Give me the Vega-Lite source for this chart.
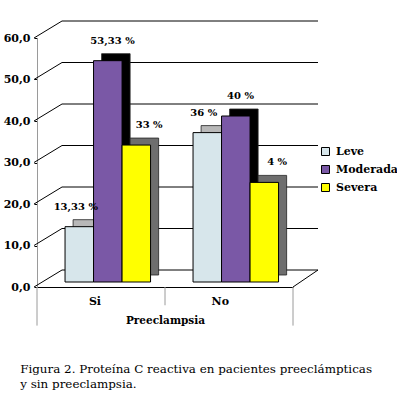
{
  "$schema": "https://vega.github.io/schema/vega-lite/v6.json",
  "width": 256,
  "height": 249,
  "autosize": "none",
  "padding": {"left": 37, "top": 38, "right": 104, "bottom": 109},
  "background": "white",
  "config": {"view": {"stroke": null}, "font": "DejaVu Serif"},
  "title": {
    "text": ["Figura 2.  Proteína C reactiva en pacientes preeclámpticas", "y sin preeclampsia."],
    "orient": "bottom", "anchor": "start", "offset": 38, "dx": 17,
    "font": "DejaVu Serif", "fontSize": 11.9, "fontWeight": "normal", "lineHeight": 15, "color": "black"
  },
  "datasets": {
    "bars": [
      {"preeclampsia": "Si", "pcr": "Leve", "value": 13.33, "label": "13,33 %"},
      {"preeclampsia": "Si", "pcr": "Moderada", "value": 53.33, "label": "53,33 %"},
      {"preeclampsia": "Si", "pcr": "Severa", "value": 33, "label": "33 %"},
      {"preeclampsia": "No", "pcr": "Leve", "value": 36, "label": "36 %"},
      {"preeclampsia": "No", "pcr": "Moderada", "value": 40, "label": "40 %"},
      {"preeclampsia": "No", "pcr": "Severa", "value": 24, "label": "4 %"}
    ],
    "ticks": [{"t": 0}, {"t": 10}, {"t": 20}, {"t": 30}, {"t": 40}, {"t": 50}, {"t": 60}],
    "one": [{}]
  },
  "resolve": {"scale": {"xOffset": "independent"}},
  "layer": [
    {
      "data": {"name": "ticks"},
      "mark": {"type": "rule", "color": "black", "strokeWidth": 1, "xOffset": 25, "x2Offset": 25, "yOffset": -17},
      "encoding": {
        "y": {"field": "t", "type": "quantitative"},
        "x": {"datum": "Si", "type": "nominal", "bandPosition": 0},
        "x2": {"datum": "No", "bandPosition": 1}
      }
    },
    {
      "data": {"name": "ticks"},
      "mark": {"type": "rule", "color": "black", "strokeWidth": 1, "xOffset": -3, "x2Offset": 25, "y2Offset": -17},
      "encoding": {
        "y": {"field": "t", "type": "quantitative"},
        "y2": {"field": "t"},
        "x": {"datum": "Si", "type": "nominal", "bandPosition": 0},
        "x2": {"datum": "Si", "bandPosition": 0}
      }
    },
    {
      "data": {"name": "one"},
      "mark": {"type": "rule", "color": "black", "strokeWidth": 1, "x2Offset": 25, "y2Offset": -17},
      "encoding": {
        "y": {"datum": 0, "type": "quantitative"},
        "y2": {"datum": 0},
        "x": {"datum": "No", "type": "nominal", "bandPosition": 1},
        "x2": {"datum": "No", "bandPosition": 1}
      }
    },
    {
      "data": {"name": "one"},
      "mark": {"type": "rule", "color": "#9a9a9a", "strokeWidth": 1},
      "encoding": {
        "y": {"datum": 0, "type": "quantitative"},
        "y2": {"datum": -9.3},
        "x": {"datum": "Si", "type": "nominal", "bandPosition": 0}
      }
    },
    {
      "data": {"name": "one"},
      "mark": {"type": "rule", "color": "#9a9a9a", "strokeWidth": 1},
      "encoding": {
        "y": {"datum": 0, "type": "quantitative"},
        "y2": {"datum": -4.4},
        "x": {"datum": "No", "type": "nominal", "bandPosition": 0}
      }
    },
    {
      "data": {"name": "one"},
      "mark": {"type": "rule", "color": "#9a9a9a", "strokeWidth": 1},
      "encoding": {
        "y": {"datum": 0, "type": "quantitative"},
        "y2": {"datum": -9.3},
        "x": {"datum": "No", "type": "nominal", "bandPosition": 1}
      }
    },
    {
      "data": {"name": "bars"},
      "transform": [{"filter": "datum.pcr === 'Leve'"}],
      "mark": {"type": "bar", "color": "#b8b8b8", "stroke": "#222222", "strokeWidth": 0.8, "yOffset": -12, "y2Offset": -12},
      "encoding": {
        "x": {"field": "preeclampsia", "type": "nominal"},
        "xOffset": {"field": "pcr", "type": "nominal", "sort": ["Leve", "Moderada", "Severa"],
          "scale": {"domain": ["Leve", "Moderada", "Severa"], "paddingInner": 0, "paddingOuter": 0.745, "align": 0.85}},
        "y": {"field": "value", "type": "quantitative"}
      }
    },
    {
      "data": {"name": "bars"},
      "transform": [{"filter": "datum.pcr === 'Moderada'"}],
      "mark": {"type": "bar", "color": "#000000", "stroke": "#222222", "strokeWidth": 0.8, "yOffset": -12, "y2Offset": -12},
      "encoding": {
        "x": {"field": "preeclampsia", "type": "nominal"},
        "xOffset": {"field": "pcr", "type": "nominal", "sort": ["Leve", "Moderada", "Severa"],
          "scale": {"domain": ["Leve", "Moderada", "Severa"], "paddingInner": 0, "paddingOuter": 0.745, "align": 0.85}},
        "y": {"field": "value", "type": "quantitative"}
      }
    },
    {
      "data": {"name": "bars"},
      "transform": [{"filter": "datum.pcr === 'Severa'"}],
      "mark": {"type": "bar", "color": "#6e6e6e", "stroke": "#222222", "strokeWidth": 0.8, "yOffset": -12, "y2Offset": -12},
      "encoding": {
        "x": {"field": "preeclampsia", "type": "nominal"},
        "xOffset": {"field": "pcr", "type": "nominal", "sort": ["Leve", "Moderada", "Severa"],
          "scale": {"domain": ["Leve", "Moderada", "Severa"], "paddingInner": 0, "paddingOuter": 0.745, "align": 0.85}},
        "y": {"field": "value", "type": "quantitative"}
      }
    },
    {
      "data": {"name": "bars"},
      "mark": {"type": "bar", "stroke": "black", "strokeWidth": 1, "yOffset": -5, "y2Offset": -5},
      "encoding": {
        "x": {"field": "preeclampsia", "type": "nominal", "sort": ["Si", "No"],
          "scale": {"domain": ["Si", "No"], "paddingInner": 0, "paddingOuter": 0},
          "axis": {"title": "Preeclampsia", "labelAngle": 0, "ticks": false, "domainColor": "black",
            "labelFont": "DejaVu Serif", "labelFontWeight": "bold", "labelFontSize": 11, "labelColor": "black", "labelPadding": 14,
            "titleFont": "DejaVu Serif", "titleFontWeight": "bold", "titleFontSize": 10.5, "titleColor": "black", "titlePadding": 9}},
        "xOffset": {"field": "pcr", "type": "nominal", "sort": ["Leve", "Moderada", "Severa"],
          "scale": {"domain": ["Leve", "Moderada", "Severa"], "paddingInner": 0, "paddingOuter": 0.745, "align": 0.66}},
        "y": {"field": "value", "type": "quantitative",
          "scale": {"domain": [0, 60], "nice": false, "zero": false},
          "axis": {"title": null, "values": [0, 10, 20, 30, 40, 50, 60], "grid": false,
            "labelExpr": "replace(format(datum.value, '.1f'), '.', ',')",
            "labelFont": "DejaVu Serif", "labelFontWeight": "bold", "labelFontSize": 11, "labelColor": "black",
            "labelPadding": 4, "tickSize": 3, "tickColor": "black", "domainColor": "#9a9a9a"}},
        "color": {"field": "pcr", "type": "nominal",
          "scale": {"domain": ["Leve", "Moderada", "Severa"], "range": ["#d7e6eb", "#7a58a6", "#ffff00"]},
          "legend": {"title": null, "orient": "none", "legendX": 283, "legendY": 108, "symbolType": "square",
            "symbolSize": 64, "symbolStrokeColor": "black", "symbolStrokeWidth": 1, "symbolOpacity": 1,
            "labelFont": "DejaVu Serif", "labelFontWeight": "bold", "labelFontSize": 11, "labelColor": "black",
            "rowPadding": 5, "labelOffset": 5}}
      }
    },
    {
      "data": {"name": "bars"},
      "mark": {"type": "text", "font": "DejaVu Serif", "fontWeight": "bold", "fontSize": 10, "color": "black",
        "dy": -25, "baseline": "middle", "align": "center"},
      "encoding": {
        "x": {"field": "preeclampsia", "type": "nominal"},
        "xOffset": {"field": "pcr", "type": "nominal", "sort": ["Leve", "Moderada", "Severa"],
          "scale": {"domain": ["Leve", "Moderada", "Severa"], "paddingInner": 0, "paddingOuter": 0.745, "align": 0.71}},
        "y": {"field": "value", "type": "quantitative"},
        "text": {"field": "label"}
      }
    }
  ]
}
